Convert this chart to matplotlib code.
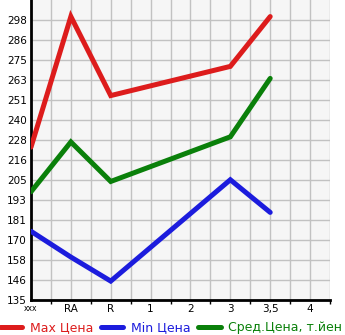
import matplotlib.pyplot as plt
import numpy as np

# Categories along the x axis
categories = ['xxx', 'RA', 'R', '1', '2', '3', '3,5', '4']

# Series values (None = no data for that category)
max_price = [224, 300, 254, None, None, 271, 300, None]
min_price = [175, 160, 146, None, None, 205, 186, None]
avg_price = [198, 227, 204, None, None, 230, 264, None]

# Y tick labels as shown on the chart
ytick_labels = ['135', '146', '158', '170', '181', '193', '205', '216',
                '228', '240', '251', '263', '275', '286', '298']

y_min = 135
y_step = (298 - 135) / 14

fig = plt.figure(figsize=(3.45, 3.35), dpi=100)
ax = fig.add_axes([31 / 345, 1 - 300 / 335, 299 / 345, 300 / 335])
ax.set_facecolor('#f6f6f6')

series = [
    (max_price, '#dd1c1c', 'Max Цена'),
    (min_price, '#1c1cdd', 'Min Цена'),
    (avg_price, '#0a800a', 'Сред.Цена, т.йен'),
]
for values, color, label in series:
    xs = [i for i, v in enumerate(values) if v is not None]
    ys = [v for v in values if v is not None]
    ax.plot(xs, ys, color=color, linewidth=3.6, solid_capstyle='round',
            solid_joinstyle='miter', label=label, zorder=3)

# Axes limits and ticks
ax.set_xlim(0, 7.5)
ax.set_ylim(y_min, y_min + 15 * y_step)
ax.set_xticks(range(len(categories)))
ax.set_xticklabels(categories, fontsize=7.5)
ax.set_xticks(np.arange(0.5, 7.6, 1.0), minor=True)
yticks = [y_min + i * y_step for i in range(len(ytick_labels))]
ax.set_yticks(yticks)
ax.set_yticklabels(ytick_labels, fontsize=7.5)
ax.tick_params(axis='x', which='major', length=0, pad=3)
ax.tick_params(axis='x', which='minor', length=3, width=1, color='black')
ax.tick_params(axis='y', length=0, pad=3)
ax.get_xticklabels()[0].set_fontsize(5.5)

# Grid: vertical every half category, horizontal every tick
for x in np.arange(0.5, 7.6, 0.5):
    ax.axvline(x, color='#c2c2c2', linewidth=1, zorder=1)
ax.grid(axis='y', color='#c2c2c2', linewidth=1, zorder=1)
ax.set_axisbelow(True)

for side in ['top', 'right']:
    ax.spines[side].set_visible(False)
ax.spines['left'].set_linewidth(2)
ax.spines['bottom'].set_linewidth(2)

leg = fig.legend(loc='center left', bbox_to_anchor=(0.0, 1 - 328 / 335),
                 ncol=3, frameon=False, fontsize=9, handlelength=1.8,
                 handletextpad=0.6, columnspacing=0.6, borderpad=0,
                 borderaxespad=0)
for line in leg.get_lines():
    line.set_linewidth(3.6)
    line.set_solid_capstyle('round')
for text, (_, color, _) in zip(leg.get_texts(), series):
    text.set_color(color)

fig.savefig('out.png', dpi=100)
